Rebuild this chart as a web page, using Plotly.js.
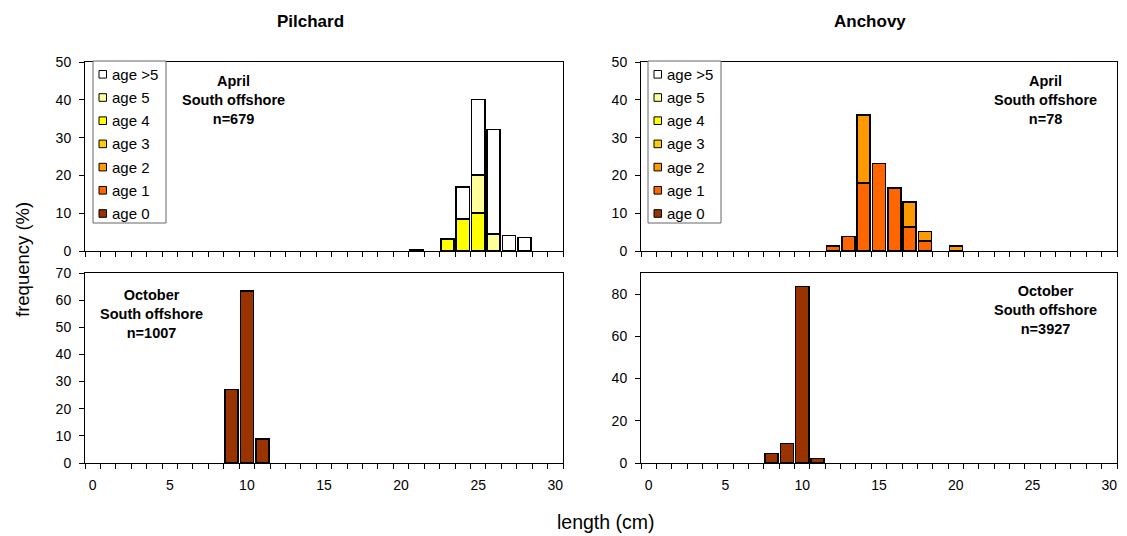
<!DOCTYPE html>
<html>
<head>
<meta charset="utf-8">
<script src="https://cdn.plot.ly/plotly-3.0.1.min.js"></script>
<style>html,body{margin:0;padding:0;background:#fff;} #chart{width:1127px;height:536px;}</style>
</head>
<body>
<div id="chart"></div>
<script>
// ---- data ----
const ageNames  = ['age 0', 'age 1', 'age 2', 'age 3', 'age 4', 'age 5', 'age >5'];
const ageColors = ['#993300', '#FF6600', '#FF9900', '#FFCC00', '#FFFF00', '#FFFF99', '#FFFFFF'];

const xTickVals   = [0, 5, 10, 15, 20, 25, 30];
const xTickLabels = ['0', '5', '10', '15', '20', '25', '30'];

// Pilchard, April, South offshore (n=679)
const pilAprLen    = [21, 23, 24, 25, 26, 27, 28];
const pilAprAge4   = [null, 3.2, 8.5, 10.0, null, null, null];
const pilAprAge5   = [null, null, null, 10.1, 4.5, null, null];
const pilAprAgeGt5 = [0.4, null, 8.4, 20.0, 27.6, 4.1, 3.6];

// Anchovy, April, South offshore (n=78)
const ancAprLen  = [12, 13, 14, 15, 16, 17, 18, 20];
const ancAprAge1 = [1.3, 3.9, 18.0, 23.2, 16.7, 6.4, 2.6, null];
const ancAprAge2 = [null, null, 18.0, null, null, 6.5, 2.6, 1.3];

// Pilchard, October, South offshore (n=1007)
const pilOctLen  = [9, 10, 11];
const pilOctAge0 = [27.0, 63.3, 8.9];

// Anchovy, October, South offshore (n=3927)
const ancOctLen  = [8, 9, 10, 11];
const ancOctAge0 = [4.5, 9.3, 83.5, 2.2];

// ---- helpers ----
const W = 1127, H = 536;
const px = v => v / W;
const py = v => 1 - v / H;
const FONT = 'Arial, "Liberation Sans", sans-serif';

function bar(x, y, ageIdx, xa, ya) {
  return {
    type: 'bar', x: x, y: y, xaxis: xa, yaxis: ya,
    name: ageNames[ageIdx], showlegend: false,
    marker: {color: ageColors[ageIdx], line: {color: '#000', width: 1.5}},
    hoverinfo: 'x+y+name'
  };
}

const traces = [
  bar(pilAprLen, pilAprAge4, 4, 'x', 'y'),
  bar(pilAprLen, pilAprAge5, 5, 'x', 'y'),
  bar(pilAprLen, pilAprAgeGt5, 6, 'x', 'y'),
  bar(ancAprLen, ancAprAge1, 1, 'x2', 'y2'),
  bar(ancAprLen, ancAprAge2, 2, 'x2', 'y2'),
  bar(pilOctLen, pilOctAge0, 0, 'x3', 'y3'),
  bar(ancOctLen, ancOctAge0, 0, 'x4', 'y4')
];

const xDomL = [px(85), px(563)], xDomR = [px(641), px(1117)];
const yDomT = [py(251), py(62)], yDomB = [py(463), py(273)];

function xAxis(domain, anchor, labels) {
  return {
    domain: domain, anchor: anchor, range: [-0.5, 30.5],
    tickmode: 'array', tickvals: xTickVals, ticktext: xTickLabels,
    ticks: '', showticklabels: labels, ticklabelstandoff: 9,
    tickfont: {family: FONT, size: 14, color: '#000'},
    minor: {ticks: 'outside', tickmode: 'linear', tick0: -0.5, dtick: 1, ticklen: 5, tickcolor: '#000', tickwidth: 1},
    showline: true, linecolor: '#000', linewidth: 1, mirror: true,
    showgrid: false, zeroline: false, fixedrange: true
  };
}
function yAxis(domain, anchor, max, dtick) {
  return {
    domain: domain, anchor: anchor, range: [0, max],
    tickmode: 'linear', tick0: 0, dtick: dtick,
    ticks: 'outside', ticklen: 5, tickcolor: '#000', tickwidth: 1, ticklabelstandoff: 5,
    tickfont: {family: FONT, size: 14, color: '#000'},
    showline: true, linecolor: '#000', linewidth: 1, mirror: true,
    showgrid: false, zeroline: false, fixedrange: true
  };
}

// legends drawn from ageNames / ageColors (top to bottom: age >5 ... age 0)
const shapes = [];
const annotations = [];
function legendBox(left) {
  shapes.push({type: 'rect', xref: 'paper', yref: 'paper',
    x0: px(left), x1: px(left + 73), y0: py(223), y1: py(61),
    line: {color: '#666', width: 1}, fillcolor: '#fff', layer: 'above'});
  for (let k = 0; k < ageNames.length; k++) {
    const i = ageNames.length - 1 - k;
    const cy = 74.3 + 23.2 * k;
    shapes.push({type: 'rect', xref: 'paper', yref: 'paper',
      x0: px(left + 6), x1: px(left + 13.5), y0: py(cy + 3.8), y1: py(cy - 3.8),
      line: {color: '#000', width: 1}, fillcolor: ageColors[i], layer: 'above'});
    annotations.push({xref: 'paper', yref: 'paper', x: px(left + 17), y: py(cy),
      xanchor: 'left', yanchor: 'middle', showarrow: false, text: ageNames[i],
      font: {family: FONT, size: 15, color: '#000'}});
  }
}
legendBox(93);
legendBox(648);

function label(x, y, text) {
  annotations.push({xref: 'paper', yref: 'paper', x: px(x), y: py(y),
    xanchor: 'center', yanchor: 'middle', showarrow: false, align: 'center',
    text: text, font: {family: FONT, size: 14.5, color: '#000', weight: 'bold'}});
}
label(233, 100, '<b>April</b><br><b>South offshore</b><br><b>n=679</b>');
label(1045, 100, '<b>April</b><br><b>South offshore</b><br><b>n=78</b>');
label(151, 314, '<b>October</b><br><b>South offshore</b><br><b>n=1007</b>');
label(1045, 310, '<b>October</b><br><b>South offshore</b><br><b>n=3927</b>');

annotations.push({xref: 'paper', yref: 'paper', x: px(310), y: py(22), showarrow: false,
  xanchor: 'center', yanchor: 'middle', text: '<b>Pilchard</b>', font: {family: FONT, size: 17, color: '#000'}});
annotations.push({xref: 'paper', yref: 'paper', x: px(870), y: py(22), showarrow: false,
  xanchor: 'center', yanchor: 'middle', text: '<b>Anchovy</b>', font: {family: FONT, size: 17, color: '#000'}});
annotations.push({xref: 'paper', yref: 'paper', x: px(22), y: py(260), showarrow: false, textangle: -90,
  xanchor: 'center', yanchor: 'middle', text: 'frequency (%)', font: {family: FONT, size: 18.5, color: '#000'}});
annotations.push({xref: 'paper', yref: 'paper', x: px(606), y: py(522), showarrow: false,
  xanchor: 'center', yanchor: 'middle', text: 'length (cm)', font: {family: FONT, size: 19.5, color: '#000'}});

const layout = {
  width: W, height: H,
  margin: {l: 0, r: 0, t: 0, b: 0, pad: 0},
  paper_bgcolor: '#fff', plot_bgcolor: '#fff',
  barmode: 'stack', bargap: 0.15,
  showlegend: false,
  font: {family: FONT, color: '#000'},
  xaxis:  xAxis(xDomL, 'y', false),
  yaxis:  yAxis(yDomT, 'x', 50, 10),
  xaxis2: xAxis(xDomR, 'y2', false),
  yaxis2: yAxis(yDomT, 'x2', 50, 10),
  xaxis3: xAxis(xDomL, 'y3', true),
  yaxis3: yAxis(yDomB, 'x3', 70, 10),
  xaxis4: xAxis(xDomR, 'y4', true),
  yaxis4: yAxis(yDomB, 'x4', 90, 20),
  shapes: shapes,
  annotations: annotations
};

Plotly.newPlot('chart', traces, layout, {displayModeBar: false, staticPlot: true});
</script>
</body>
</html>
